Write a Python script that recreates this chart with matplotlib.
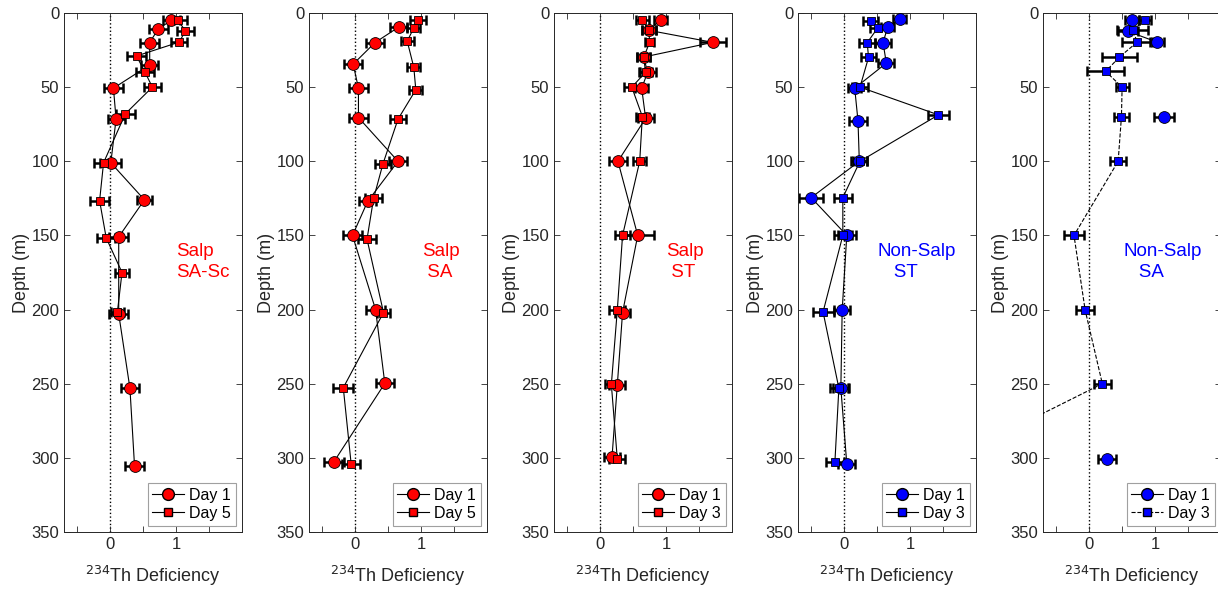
import numpy as np
import matplotlib.pyplot as plt

plt.rcParams['font.family'] = ['Liberation Sans', 'DejaVu Sans']

# Salp SA-Sc
p1_d1_x = [0.93, 0.73, 0.60, 0.60, 0.05, 0.09, 0.01, 0.52, 0.13, 0.13, 0.30, 0.37]
p1_d1_z = [5, 10.6, 20, 35, 50.7, 71.6, 101, 126, 151, 203, 253, 305.6]
p1_d1_e = [0.13, 0.14, 0.14, 0.13, 0.15, 0.13, 0.16, 0.12, 0.14, 0.14, 0.14, 0.14]
p1_d5_x = [1.03, 1.14, 1.05, 0.40, 0.53, 0.64, 0.23, -0.10, -0.16, -0.06, 0.18, 0.11]
p1_d5_z = [5, 12, 19.6, 29, 40, 50, 68, 101, 126.6, 151.6, 175, 201.6]
p1_d5_e = [0.13, 0.13, 0.12, 0.14, 0.14, 0.13, 0.14, 0.14, 0.15, 0.14, 0.1, 0.1]

# Salp SA
p2_d1_x = [0.66, 0.30, -0.03, 0.05, 0.05, 0.65, 0.19, -0.04, 0.31, 0.45, -0.32]
p2_d1_z = [9.5, 20, 34.5, 50.7, 70.5, 100, 127, 150, 200, 249.8, 302.5]
p2_d1_e = [0.13, 0.14, 0.14, 0.14, 0.14, 0.14, 0.13, 0.15, 0.14, 0.14, 0.15]
p2_d5_x = [0.95, 0.89, 0.79, 0.89, 0.92, 0.65, 0.42, 0.28, 0.18, 0.43, -0.18, -0.06]
p2_d5_z = [5, 10, 19, 36.7, 51.8, 71.6, 102, 125, 152.5, 202, 252.7, 304.3]
p2_d5_e = [0.12, 0.1, 0.1, 0.1, 0.1, 0.12, 0.12, 0.13, 0.13, 0.1, 0.15, 0.14]

# Salp ST
p3_d1_x = [0.92, 0.74, 1.71, 0.66, 0.72, 0.63, 0.69, 0.27, 0.57, 0.34, 0.26, 0.18]
p3_d1_z = [4.5, 11.7, 19.8, 29.7, 40, 50.7, 71, 100, 150, 202, 251, 299.5]
p3_d1_e = [0.1, 0.1, 0.2, 0.1, 0.12, 0.1, 0.12, 0.13, 0.24, 0.12, 0.12, 0.12]
p3_d3_x = [0.64, 0.74, 0.75, 0.66, 0.69, 0.48, 0.64, 0.60, 0.34, 0.26, 0.17, 0.26]
p3_d3_z = [5, 11.7, 19.8, 30, 39.9, 50, 69.8, 100, 150, 200.5, 250.5, 300.7]
p3_d3_e = [0.1, 0.1, 0.07, 0.1, 0.1, 0.12, 0.1, 0.1, 0.12, 0.12, 0.1, 0.12]

# Non-Salp ST
p4_d1_x = [0.84, 0.66, 0.59, 0.64, 0.16, 0.21, 0.23, -0.50, 0.04, -0.03, -0.05, 0.04]
p4_d1_z = [4, 9.5, 20, 33.8, 50.7, 72.7, 100, 124.5, 150, 200.5, 253, 304]
p4_d1_e = [0.1, 0.1, 0.12, 0.12, 0.1, 0.13, 0.12, 0.18, 0.14, 0.12, 0.12, 0.13]
p4_d3_x = [0.40, 0.51, 0.35, 0.37, 0.24, 1.43, 0.24, -0.02, -0.02, -0.32, -0.08, -0.14]
p4_d3_z = [5.6, 10, 20, 30, 50, 68.7, 100, 124.5, 150, 201.6, 253, 302.6]
p4_d3_e = [0.12, 0.12, 0.12, 0.12, 0.12, 0.16, 0.1, 0.14, 0.14, 0.16, 0.14, 0.14]

# Non-Salp SA
p5_d1_x = [0.65, 0.59, 1.03, np.nan, 1.14, np.nan, 0.27]
p5_d1_z = [4.5, 12.4, 19.6, 40, 69.8, 200, 300.7]
p5_d1_e = [0.1, 0.15, 0.1, 0, 0.15, 0, 0.13]
p5_d3_x = [0.85, 0.66, 0.73, 0.46, 0.25, 0.50, 0.49, 0.44, -0.23, -0.06, 0.20, -2.05]
p5_d3_z = [4.5, 11.7, 19.6, 29.7, 39.4, 50, 69.8, 100, 150, 200.5, 250, 300]
p5_d3_e = [0.09, 0.23, 0.23, 0.26, 0.28, 0.1, 0.12, 0.12, 0.15, 0.14, 0.13, 0.13]

panels = [
    (p1_d1_x, p1_d1_z, p1_d1_e, p1_d5_x, p1_d5_z, p1_d5_e, 'Day 5', 'red', 'Salp\nSA-Sc', 1.0, '-'),
    (p2_d1_x, p2_d1_z, p2_d1_e, p2_d5_x, p2_d5_z, p2_d5_e, 'Day 5', 'red', 'Salp\n SA', 1.02, '-'),
    (p3_d1_x, p3_d1_z, p3_d1_e, p3_d3_x, p3_d3_z, p3_d3_e, 'Day 3', 'red', 'Salp\n ST', 1.0, '-'),
    (p4_d1_x, p4_d1_z, p4_d1_e, p4_d3_x, p4_d3_z, p4_d3_e, 'Day 3', 'blue', 'Non-Salp\n   ST', 0.51, '-'),
    (p5_d1_x, p5_d1_z, p5_d1_e, p5_d3_x, p5_d3_z, p5_d3_e, 'Day 3', 'blue', 'Non-Salp\n   SA', 0.52, '--'),
]

fig = plt.figure(figsize=(12.18, 5.92), dpi=100)
lefts = [64, 309, 554, 798, 1043]

for i, (x1, z1, e1, x2, z2, e2, lab2, col, txt, tx, ls2) in enumerate(panels):
    ax = fig.add_axes([lefts[i] / 1218, 60 / 592, 178 / 1218, 519 / 592])
    ax.axvline(0, color='black', linestyle=':', linewidth=1, zorder=1)

    ax.errorbar(x1, z1, xerr=e1, fmt='none', ecolor='black', elinewidth=1.8,
                capsize=3.5, capthick=1.8, zorder=2)
    ax.errorbar(x2, z2, xerr=e2, fmt='none', ecolor='black', elinewidth=1.8,
                capsize=3.5, capthick=1.8, zorder=2)
    ax.plot(x1, z1, '-', color='black', linewidth=0.8, zorder=3)
    ax.plot(x2, z2, ls2, color='black', linewidth=0.8, zorder=3)
    ax.plot(x1, z1, 'o', markerfacecolor=col, markeredgecolor='black',
            markersize=8.5, markeredgewidth=0.6, zorder=4)
    ax.plot(x2, z2, 's', markerfacecolor=col, markeredgecolor='black',
            markersize=5.5, markeredgewidth=0.6, zorder=4)

    # legend proxies
    h1, = ax.plot([], [], '-o', color='black', markerfacecolor=col,
                  markeredgecolor='black', markersize=8.5, linewidth=0.8)
    h2, = ax.plot([], [], ls2, marker='s', color='black', markerfacecolor=col,
                  markeredgecolor='black', markersize=5.5, linewidth=0.8)
    leg = ax.legend([h1, h2], ['Day 1', lab2], loc='lower right', fontsize=11.5,
                    fancybox=False, framealpha=1, borderpad=0.3,
                    handlelength=2.0, handletextpad=0.3, labelspacing=0.2,
                    borderaxespad=0.4)
    leg.get_frame().set_edgecolor('#a0a0a0')
    leg.get_frame().set_linewidth(0.8)

    ax.text(tx, 168, txt, color=col, fontsize=13.5, ha='left', va='center',
            linespacing=1.25)

    ax.set_xlim(-0.7, 2.0)
    ax.set_ylim(350, 0)
    ax.set_xticks([-0.5, 0, 0.5, 1, 1.5])
    ax.set_xticklabels(['', '0', '', '1', ''])
    ax.set_yticks(np.arange(0, 351, 50))
    ax.tick_params(direction='in', top=True, right=True, labelsize=12,
                   colors='#262626', length=4, width=0.6)
    for s in ax.spines.values():
        s.set_color('#262626')
        s.set_linewidth(0.7)
    ax.set_ylabel('Depth (m)', fontsize=13, color='#262626', labelpad=1)
    ax.set_xlabel('$^{234}$Th Deficiency', fontsize=13, color='#262626', labelpad=9)

fig.savefig('out.png', dpi=100)
